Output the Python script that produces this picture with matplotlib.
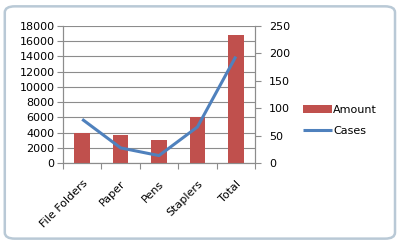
import numpy as np
import matplotlib
matplotlib.use("Agg")
import matplotlib.pyplot as plt
from matplotlib.patches import FancyBboxPatch

categories = ["File Folders", "Paper", "Pens", "Staplers", "Total"]
amount = [3920, 3720, 3060, 6060, 16830]
cases = [80, 28, 14, 66, 194]

plt.rcParams['font.family'] = ['DejaVu Sans']

fig = plt.figure(figsize=(3.99, 2.44), dpi=100)

# rounded chart frame
frame = FancyBboxPatch((0.012, 0.022), 0.978, 0.952, boxstyle="round,pad=0,rounding_size=0.025",
                       transform=fig.transFigure, facecolor="none", edgecolor="#b9c9d6",
                       linewidth=1.8, zorder=-1)
fig.patches.append(frame)

ax = fig.add_axes([63 / 399, 1 - 163.3 / 244, (255 - 63) / 399, (163.3 - 25.7) / 244])
ax.patch.set_alpha(0)
x = np.arange(len(categories))
ax.bar(x, amount, width=0.41, color="#c0504d", label="Amount", zorder=3)
ax.set_xlim(-0.5, len(categories) - 0.5)
ax.set_ylim(0, 18000)
ax.set_yticks(range(0, 18001, 2000))
ax.grid(axis="y", color="#8c8c8c", linewidth=0.8, zorder=0)
ax.set_axisbelow(True)

ax.set_xticks(np.arange(-0.5, len(categories), 1.0), minor=False)
ax.set_xticklabels([])
ax.set_xticks(x, minor=True)
ax.set_xticklabels(categories, minor=True, rotation=45, ha="right", rotation_mode="anchor")
ax.tick_params(axis="x", which="minor", length=0, pad=11, labelsize=8)
ax.tick_params(axis="x", which="major", length=4, color="#8c8c8c")
ax.tick_params(axis="y", length=4, color="#8c8c8c", labelsize=8, pad=2)

ax.spines["top"].set_visible(False)
for s in ["left", "bottom", "right"]:
    ax.spines[s].set_color("#8c8c8c")

ax2 = ax.twinx()
ax2.plot(x, cases, color="#4f81bd", linewidth=2.2, label="Cases", solid_capstyle="butt")
ax2.set_ylim(0, 250)
ax2.set_yticks(range(0, 251, 50))
ax2.tick_params(axis="y", length=4, color="#8c8c8c", labelsize=8, pad=6)
ax2.spines["top"].set_visible(False)
for s in ["left", "bottom", "right"]:
    ax2.spines[s].set_color("#8c8c8c")

h1, l1 = ax.get_legend_handles_labels()
h2, l2 = ax2.get_legend_handles_labels()
fig.legend(h1 + h2, l1 + l2, loc="center left", bbox_to_anchor=(0.735, 0.505),
           frameon=False, fontsize=8, handlelength=2.6, handleheight=0.7,
           handletextpad=0.1, labelspacing=1.0)

fig.savefig("out.png", dpi=100)
